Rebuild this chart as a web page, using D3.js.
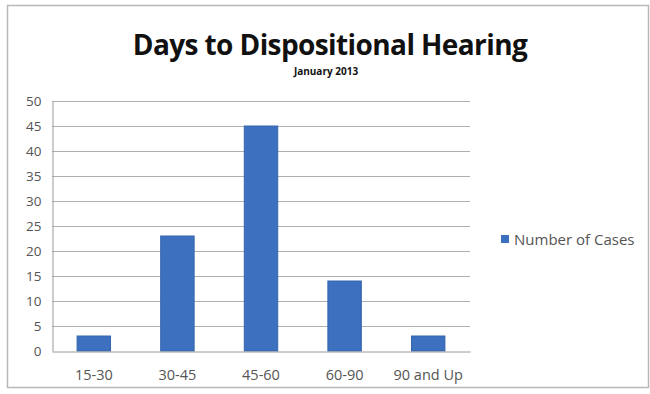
<!DOCTYPE html>
<html><head><meta charset="utf-8">
<script src="https://cdn.jsdelivr.net/npm/d3@7"></script>
<style>body{margin:0;background:#fff}svg{display:block}</style>
</head><body><svg id="c" width="650" height="394"></svg>
<script>
const categories = ["15-30","30-45","45-60","60-90","90 and Up"];
const values = [3,23,45,14,3];
const yTicks = [0,5,10,15,20,25,30,35,40,45,50];
const seriesName = "Number of Cases";
const title = "Days to Dispositional Hearing";
const subtitle = "January 2013";

const svg = d3.select("#c");
const font = "Open Sans, Lato, sans-serif";
// frame
svg.append("rect").attr("x",7.5).attr("y",5.5).attr("width",641).attr("height",382)
  .attr("fill","#fff").attr("stroke","#b8b8b8").attr("stroke-width",1.5);

const m = {l:52, r:470, t:101, b:351};
const x = d3.scaleBand().domain(categories).range([m.l,m.r]).paddingInner(0.6).paddingOuter(0.3);
const y = d3.scaleLinear().domain([0,50]).range([m.b,m.t]);

// gridlines
svg.append("g").selectAll("line").data(yTicks.filter(d=>d>0)).join("line")
  .attr("x1",m.l).attr("x2",m.r).attr("y1",d=>y(d)+0.5).attr("y2",d=>y(d)+0.5)
  .attr("stroke","#b0b0b0").attr("stroke-width",1);

// y axis
const ya = svg.append("g").attr("transform",`translate(${m.l+0.5},0)`)
  .call(d3.axisLeft(y).tickValues(yTicks).tickSize(0).tickPadding(11));
ya.select(".domain").attr("stroke","#9a9a9a");
ya.selectAll("text").attr("font-family",font).attr("font-size",13.5).attr("fill","#555");

// bars
svg.append("g").selectAll("rect").data(values).join("rect")
  .attr("x",(d,i)=>x(categories[i])).attr("width",x.bandwidth())
  .attr("y",d=>y(d)).attr("height",d=>m.b-y(d))
  .attr("fill","#3d70bf").attr("stroke","#3566ad").attr("stroke-width",1);

// x axis
const xa = svg.append("g").attr("transform",`translate(0,${m.b+0.5})`)
  .call(d3.axisBottom(x).tickSize(0).tickPadding(18));
xa.select(".domain").attr("stroke","#9a9a9a");
xa.selectAll("text").attr("font-family",font).attr("font-size",14.5).attr("fill","#555");

// titles
svg.append("text").attr("x",330).attr("y",55).attr("text-anchor","middle")
  .attr("font-family",font).attr("font-weight","bold").attr("font-size",28)
  .attr("letter-spacing","-0.6").attr("fill","#111").text(title);
svg.append("text").attr("x",326).attr("y",75).attr("text-anchor","middle")
  .attr("font-family",font).attr("font-weight","bold").attr("font-size",10)
  .attr("fill","#111").text(subtitle);

// legend
svg.append("rect").attr("x",501).attr("y",235).attr("width",8).attr("height",8).attr("fill","#3d70bf");
svg.append("text").attr("x",514).attr("y",244.5).attr("font-family",font).attr("font-size",15)
  .attr("fill","#555").text(seriesName);
</script></body></html>
